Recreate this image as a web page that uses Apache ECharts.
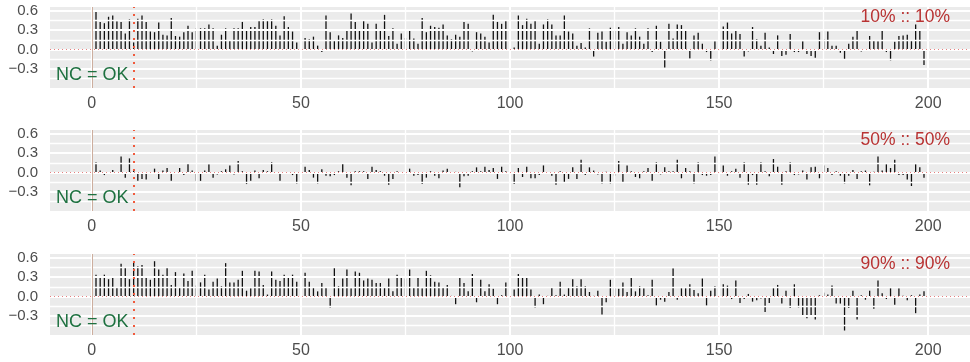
<!DOCTYPE html>
<html>
<head>
<meta charset="utf-8">
<script src="https://cdn.jsdelivr.net/npm/echarts@6/dist/echarts.min.js"></script>
<style>html,body{margin:0;padding:0;background:#fff}#c{width:970px;height:362px}</style>
</head>
<body>
<div id="c"></div>
<script>
// ---------- data ----------
const lags = Array.from({length: 200}, (_, i) => i + 1);
const acf10 = [
 0.59,0.43,0.41,0.51,0.53,0.44,0.43,0.25,0.47,0.11,
 0.48,0.53,0.43,0.28,0.27,0.42,0.23,0.22,0.49,0.21,
 0.20,0.27,0.37,0.27,0.33,0.33,0.33,0.39,0.33,0.06,
 0.23,0.33,0.14,0.33,0.33,0.43,0.31,0.35,0.35,0.45,
 0.47,0.45,0.47,0.37,0.22,0.52,0.35,0.28,0.11,0.10,
 0.18,0.16,0.20,0.06,-0.04,0.53,0.27,0.14,0.22,0.18,
 0.30,0.56,0.43,0.31,0.45,0.40,0.11,0.40,0.31,0.54,
 0.21,0.33,0.09,0.25,0.18,0.30,0.17,0.09,0.49,0.27,
 0.37,0.35,0.34,0.39,0.22,0.16,0.23,0.20,0.43,0.40,
 -0.03,0.27,0.25,0.20,0.11,0.54,0.43,0.40,0.46,0.18,
 0.03,0.53,0.38,0.48,0.40,0.45,0.09,0.39,0.47,0.39,
 0.22,0.22,0.53,0.28,0.25,0.06,0.10,0.03,0.33,-0.11,
 0.26,0.28,0.12,0.34,0.30,0.35,0.09,0.27,0.22,0.33,
 0.20,0.09,0.33,-0.04,0.37,0.12,-0.28,0.40,0.17,0.39,
 0.38,0.30,-0.14,0.22,0.26,0.09,-0.04,-0.17,0.13,0.13,
 0.36,0.42,0.25,0.29,0.24,-0.11,-0.03,0.35,0.16,0.06,
 0.26,0.03,-0.07,0.22,-0.10,-0.08,0.24,-0.04,-0.04,0.13,
 -0.07,-0.10,-0.13,0.27,0.16,0.28,0.06,0.06,-0.05,-0.15,
 0.09,0.20,0.31,-0.03,-0.02,0.21,0.14,0.13,0.31,-0.04,
 -0.17,0.12,0.21,0.22,0.23,0.14,0.39,0.31,-0.24,0.28
];
const acf50 = [
 0.16,0.03,-0.04,-0.02,0.04,-0.02,0.25,-0.08,0.22,0.04,
 -0.13,-0.10,-0.11,-0.02,0.06,-0.10,0.03,0.07,-0.13,-0.02,
 0.07,-0.04,0.14,0.03,-0.13,-0.13,0.03,0.13,-0.08,-0.03,
 0.02,0.05,0.11,-0.03,0.18,0.02,-0.18,-0.13,0.03,-0.09,
 0.04,0.02,0.16,-0.02,-0.13,-0.02,-0.02,-0.04,-0.17,-0.01,
 0.09,0.04,-0.08,-0.17,0.05,-0.05,-0.06,-0.04,0.02,0.14,
 -0.08,-0.20,0.02,0.02,0.02,-0.10,0.09,0.04,0.02,-0.05,
 -0.19,-0.10,0.02,-0.02,-0.03,0.06,-0.05,-0.04,-0.18,-0.08,
 0.02,-0.05,-0.09,0.03,0.06,-0.02,0.01,-0.23,-0.06,-0.05,
 0.02,0.08,0.02,0.09,0.04,0.07,-0.10,0.09,0.02,-0.04,
 -0.18,0.07,-0.07,0.09,-0.09,-0.09,-0.04,0.11,-0.02,-0.05,
 -0.19,0.02,-0.15,-0.10,0.08,-0.10,0.20,-0.04,0.08,0.03,
 -0.03,-0.17,0.01,-0.17,-0.05,0.18,-0.15,0.11,0.02,-0.07,
 -0.09,0.02,0.07,-0.13,0.16,-0.03,0.08,0.02,0.02,0.20,
 -0.09,0.07,0.02,-0.17,0.16,-0.04,-0.05,-0.04,0.25,-0.03,
 0.11,-0.05,0.02,0.06,-0.08,0.16,-0.19,-0.04,-0.19,0.16,
 0.02,-0.06,0.21,0.09,-0.19,0.02,0.16,-0.04,-0.03,0.03,
 -0.11,0.08,0.09,-0.09,0.11,0.07,-0.04,0.02,-0.05,-0.17,
 -0.05,0.04,-0.10,0.02,0.03,-0.20,0.01,0.25,0.03,0.13,
 0.07,0.20,-0.04,-0.04,-0.11,-0.21,0.13,0.08,-0.08,-0.05
];
const acf90 = [
 0.34,0.31,0.34,0.27,0.30,0.14,0.51,0.46,0.27,0.54,
 0.47,0.49,0.32,0.26,0.55,0.42,0.34,0.46,0.18,0.38,
 0.14,0.36,0.24,0.40,0.17,0.22,0.34,0.11,0.23,0.28,
 0.16,0.52,0.22,0.22,0.26,0.40,0.09,0.13,0.40,0.39,
 0.18,0.03,0.39,0.26,0.24,0.34,0.29,0.34,0.23,0.52,
 0.37,0.23,0.14,0.08,0.21,0.14,-0.17,0.46,0.16,0.28,
 0.42,0.13,0.39,0.37,0.25,0.28,0.26,0.21,0.21,0.14,
 0.28,0.08,0.34,0.32,0.28,0.42,0.14,0.31,0.13,0.40,
 0.33,0.23,0.22,0.14,0.18,0.01,-0.12,0.30,0.21,0.08,
 0.35,-0.09,0.26,0.08,0.19,0.12,-0.12,0.02,0.22,0.33,
 0.11,0.35,0.31,0.31,0.11,-0.17,0.03,-0.12,0.01,0.14,
 0.02,0.23,0.03,0.14,0.27,0.16,0.27,0.16,0.07,0.01,
 0.09,-0.28,-0.09,0.26,0.13,0.12,0.22,0.07,0.32,0.08,
 0.16,0.13,0.02,0.26,-0.14,-0.05,-0.08,0.07,0.44,-0.05,
 0.13,0.13,0.19,0.10,0.05,0.28,-0.14,0.09,0.16,0.24,
 0.19,0.17,-0.04,0.25,-0.10,-0.04,0.04,-0.08,-0.06,-0.03,
 -0.24,-0.10,0.13,0.18,-0.11,0.09,-0.18,0.19,-0.17,-0.31,
 -0.34,-0.31,-0.36,0.02,0.06,0.03,0.17,-0.11,-0.11,-0.53,
 -0.18,0.09,-0.36,0.02,-0.05,0.09,-0.19,0.25,0.05,-0.04,
 0.13,-0.13,0.13,0.01,-0.06,0.02,-0.26,0.03,0.08,0.02
];
const panelSeries = [acf10, acf50, acf90];
const panelTitles = ['10% :: 10%', '50% :: 50%', '90% :: 90%'];
const ncText = 'NC = OK';
const cutoffLag = 10;
const xTicks = [0, 50, 100, 150, 200];
const xMinor = [25, 75, 125, 175];
const yTicks = [-0.3, 0, 0.3, 0.6];
const yMinor = [-0.45, -0.15, 0.15, 0.45];

// ---------- layout ----------
const X_MIN = -10, X_MAX = 210, Y_MIN = -0.6, Y_MAX = 0.6623;
const GRID_LEFT = 50, GRID_W = 920, GRID_H = 81;
const tops = [7, 130, 254];

const grids = [], xAxes = [], yAxes = [], series = [], graphics = [];
const fmtY = v => (v < 0 ? '\u2212' : '') + Math.abs(v).toFixed(1);

tops.forEach((top, i) => {
  grids.push({left: GRID_LEFT, top: top, width: GRID_W, height: GRID_H, show: true,
              backgroundColor: '#EBEBEB', borderWidth: 0, containLabel: false});
  xAxes.push({
    type: 'value', gridIndex: i, min: X_MIN, max: X_MAX,
    axisLine: {show: false}, splitLine: {show: false},
    axisTick: {show: true, customValues: xTicks, length: 5, lineStyle: {color: '#333', width: 1.5}},
    axisLabel: {customValues: xTicks, color: '#4D4D4D', fontSize: 16, margin: 8,
                fontFamily: 'Liberation Sans, Arial, sans-serif'}
  });
  yAxes.push({
    type: 'value', gridIndex: i, min: Y_MIN, max: Y_MAX,
    axisLine: {show: false}, splitLine: {show: false},
    axisTick: {show: true, customValues: yTicks, length: 5, lineStyle: {color: '#333', width: 1.5}},
    axisLabel: {customValues: yTicks, color: '#4D4D4D', fontSize: 15, margin: 12,
                formatter: fmtY, fontFamily: 'Liberation Sans, Arial, sans-serif'}
  });
  const white = (w) => ({color: '#FFFFFF', width: w, type: 'solid'});
  // grid lines
  series.push({
    type: 'line', xAxisIndex: i, yAxisIndex: i, data: [], z: 1, silent: true,
    markLine: {
      silent: true, symbol: 'none', animation: false, label: {show: false},
      data: [].concat(
        xMinor.map(v => ({xAxis: v, lineStyle: white(1.3)})),
        xTicks.map(v => ({xAxis: v, lineStyle: white(2)})),
        yMinor.map(v => ({yAxis: v, lineStyle: white(1.3)})),
        yTicks.map(v => ({yAxis: v, lineStyle: white(2)}))
      )
    }
  });
  // bars
  series.push({
    type: 'bar', xAxisIndex: i, yAxisIndex: i, z: 2, barWidth: 1.3,
    itemStyle: {color: '#111111'}, animation: false, silent: true,
    data: lags.map((l, j) => [l, panelSeries[i][j]])
  });
  // reference lines
  series.push({
    type: 'line', xAxisIndex: i, yAxisIndex: i, data: [], z: 3, silent: true,
    markLine: {
      silent: true, symbol: 'none', animation: false, label: {show: false},
      data: [
        {yAxis: 0, lineStyle: {color: '#E58080', width: 1, type: [1, 3]}},
        {xAxis: 0, lineStyle: {color: '#CDAE9E', width: 1, type: 'solid'}},
        {xAxis: cutoffLag, lineStyle: {color: '#F05A3C', width: 2, type: [2, 6]}}
      ]
    }
  });
  graphics.push({
    type: 'text', right: 970 - 950, top: top + 1, z: 100,
    style: {text: panelTitles[i], fill: '#B83232', fontSize: 17.5,
            fontFamily: 'Liberation Sans, Arial, sans-serif'}
  });
  graphics.push({
    type: 'text', left: 56, top: top + 59, z: 100,
    style: {text: ncText, fill: '#1E7140', fontSize: 18,
            fontFamily: 'Liberation Sans, Arial, sans-serif'}
  });
});

const chart = echarts.init(document.getElementById('c'), null, {renderer: 'canvas'});
chart.setOption({
  animation: false,
  backgroundColor: '#FFFFFF',
  grid: grids, xAxis: xAxes, yAxis: yAxes, series: series, graphic: graphics
});
</script>
</body>
</html>
